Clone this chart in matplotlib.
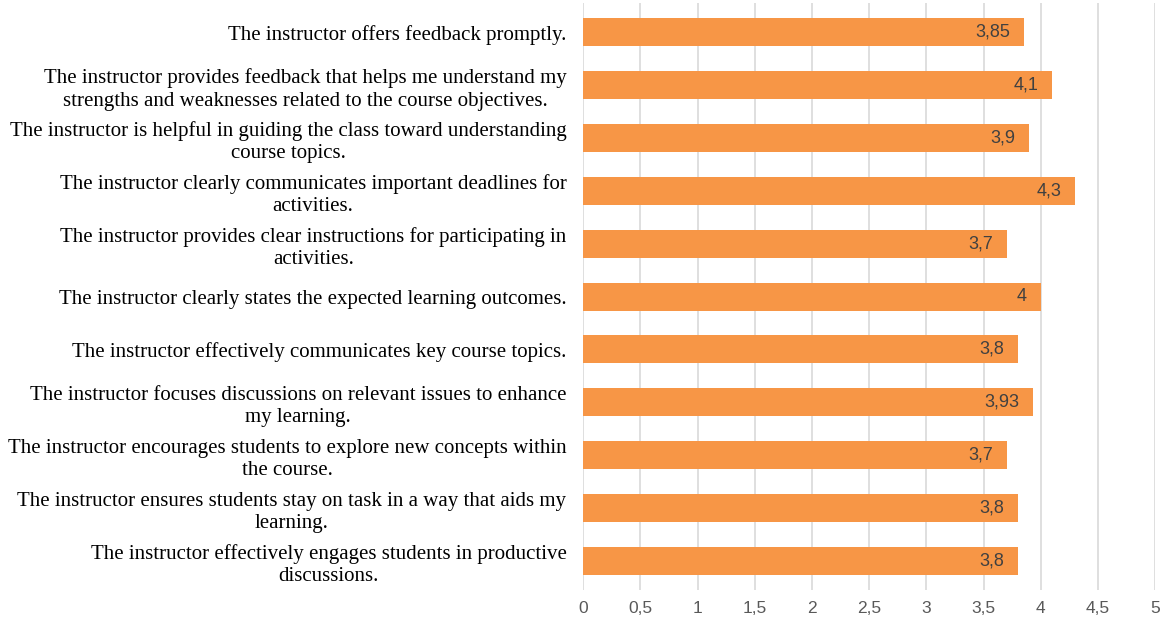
import matplotlib
matplotlib.use("Agg")
import matplotlib.pyplot as plt
from matplotlib.ticker import FuncFormatter

categories = [
    "The instructor offers feedback promptly.",
    "The instructor provides feedback that helps me understand my\nstrengths and weaknesses related to the course objectives.",
    "The instructor is helpful in guiding the class toward understanding\ncourse topics.",
    "The instructor clearly communicates important deadlines for\nactivities.",
    "The instructor provides clear instructions for participating in\nactivities.",
    "The instructor clearly states the expected learning outcomes.",
    "The instructor effectively communicates key course topics.",
    "The instructor focuses discussions on relevant issues to enhance\nmy learning.",
    "The instructor encourages students to explore new concepts within\nthe course.",
    "The instructor ensures students stay on task in a way that aids my\nlearning.",
    "The instructor effectively engages students in productive\ndiscussions.",
]
values = [3.85, 4.1, 3.9, 4.3, 3.7, 4.0, 3.8, 3.93, 3.7, 3.8, 3.8]
value_labels = ["3,85", "4,1", "3,9", "4,3", "3,7", "4", "3,8", "3,93", "3,7", "3,8", "3,8"]
xticks = [0, 0.5, 1, 1.5, 2, 2.5, 3, 3.5, 4, 4.5, 5]

fig = plt.figure(figsize=(11.64, 6.21), dpi=100)
ax = fig.add_axes([0.501, 0.05, 0.4915, 0.945])

pos = list(range(len(categories)))
bars = ax.barh(pos, values, height=0.53, color="#F79646", zorder=3)
ax.set_ylim(len(categories) - 0.45, -0.55)
ax.set_xlim(0, 5)
ax.set_xticks(xticks)
ax.xaxis.set_major_formatter(FuncFormatter(lambda v, p: f"{v:g}".replace(".", ",")))
ax.set_yticks(pos)
ax.set_yticklabels(categories, family="Liberation Serif", fontsize=15,
                   multialignment="center", color="#000000", linespacing=1.25)
ax.tick_params(axis="y", length=0, pad=12)
ax.tick_params(axis="x", length=0, pad=8, labelsize=12.5, labelcolor="#595959")
for lab in ax.get_xticklabels():
    lab.set_family("Liberation Sans")
ax.grid(axis="x", color="#D9D9D9", linewidth=1.2, zorder=0)
ax.grid(axis="y", visible=False)
for s in ax.spines.values():
    s.set_visible(False)

for b, t in zip(bars, value_labels):
    ax.annotate(t, xy=(b.get_width(), b.get_y() + b.get_height() / 2),
                xytext=(-10, 0), textcoords="offset points",
                ha="right", va="center", fontsize=13, color="#404040",
                family="Liberation Sans", zorder=4)

fig.savefig("out.png", dpi=100)
